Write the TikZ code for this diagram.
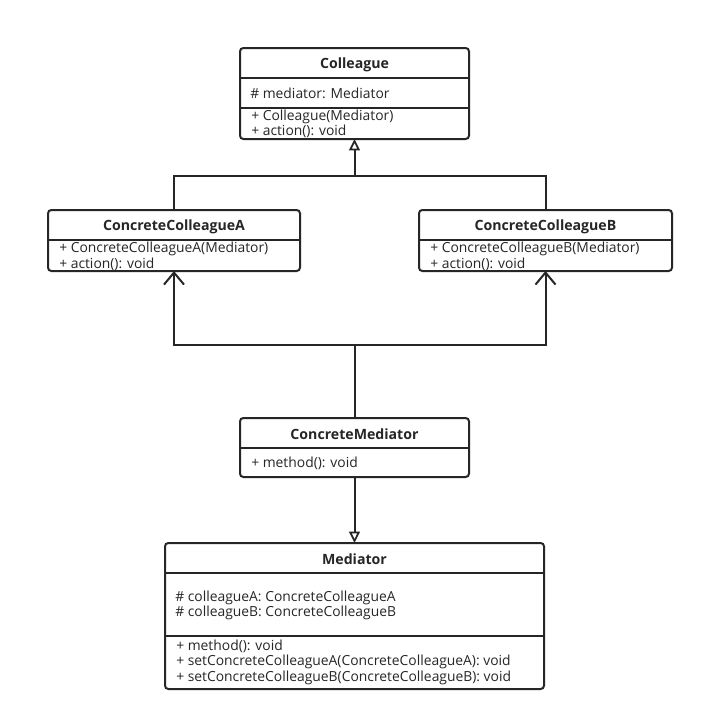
\documentclass[tikz,border=0pt]{standalone}
\usepackage{fontspec}
\setmainfont{Open Sans}
\usetikzlibrary{arrows.meta}
\tikzset{
  umlbox/.style={draw=black!85, line width=1.5pt, rounded corners=2.5pt, inner sep=0pt, outer sep=0pt, fill=white},
  divider/.style={draw=black!85, line width=1.5pt},
  title/.style={font=\fontsize{10.6}{12}\selectfont\bfseries, text=black!85, inner sep=0pt, yshift=-1pt},
  member/.style={font=\fontsize{10.4}{12}\selectfont, text=black!85, anchor=west, inner sep=0pt, yshift=-0.5pt},
  conn/.style={draw=black!85, line width=1.5pt},
  inherit/.style={conn, -{Triangle[open, length=8.5pt, width=8pt, line width=1.3pt]}},
  assoc/.style={conn, -{Straight Barb[length=9pt, width=15pt, line width=1.5pt]}},
}
\begin{document}
\begin{tikzpicture}[x=0.75pt, y=-0.75pt]
\useasboundingbox[fill=white] (0,0) rectangle (704,721);

% Colleague
\node[umlbox, minimum width=171.75pt, minimum height=68.25pt] (coll) at (354.5,93.5) {};
\draw[divider] (240,78) -- (469,78);
\draw[divider] (240,108) -- (469,108);
\node[title] (collT) at (354.5,63) {Colleague};
\node[member] (collA) at (250,93) {\# mediator: Mediator};
\node[member] (collM1) at (251,116.5) {+ Colleague(Mediator)};
\node[member] (collM2) at (251,131) {+ action(): void};

% ConcreteColleagueA
\node[umlbox, minimum width=189pt, minimum height=45.75pt] (cca) at (174,240.5) {};
\draw[divider] (48,240) -- (300,240);
\node[title] (ccaT) at (174,225) {ConcreteColleagueA};
\node[member] (ccaM1) at (59,248) {+ ConcreteColleagueA(Mediator)};
\node[member] (ccaM2) at (59,263.5) {+ action(): void};

% ConcreteColleagueB
\node[umlbox, minimum width=189.75pt, minimum height=45.75pt] (ccb) at (545.5,240.5) {};
\draw[divider] (419,240) -- (672,240);
\node[title] (ccbT) at (545.5,225) {ConcreteColleagueB};
\node[member] (ccbM1) at (430,248) {+ ConcreteColleagueB(Mediator)};
\node[member] (ccbM2) at (430,263.5) {+ action(): void};

% ConcreteMediator
\node[umlbox, minimum width=171.75pt, minimum height=44.25pt] (cm) at (354.5,447.5) {};
\draw[divider] (240,448) -- (469,448);
\node[title] (cmT) at (354.5,433) {ConcreteMediator};
\node[member] (cmM1) at (251,463) {+ method(): void};

% Mediator
\node[umlbox, minimum width=284.25pt, minimum height=109.5pt] (med) at (354.5,616) {};
\draw[divider] (165,573) -- (544,573);
\draw[divider] (165,636) -- (544,636);
\node[title] (medT) at (354.5,558) {Mediator};
\node[member] (medA1) at (175,597) {\# colleagueA: ConcreteColleagueA};
\node[member] (medA2) at (175,612.5) {\# colleagueB: ConcreteColleagueB};
\node[member] (medM1) at (176,645.5) {+ method(): void};
\node[member] (medM2) at (176,661.5) {+ setConcreteColleagueA(ConcreteColleagueA): void};
\node[member] (medM3) at (176,677.5) {+ setConcreteColleagueB(ConcreteColleagueB): void};

% generalization A,B -> Colleague
\coordinate (jtop) at (354.5,176);
\draw[conn] (cca.north) |- (jtop) -| (ccb.north);
\draw[inherit] (jtop) -- (coll.south);

% ConcreteMediator -> A, B (association)
\coordinate (jmid) at (354.5,345);
\draw[conn] (cm.north) -- (jmid);
\draw[assoc] (jmid) -| (cca.south);
\draw[assoc] (jmid) -| (ccb.south);

% ConcreteMediator -> Mediator
\draw[inherit] (cm.south) -- (med.north);
\end{tikzpicture}
\end{document}
